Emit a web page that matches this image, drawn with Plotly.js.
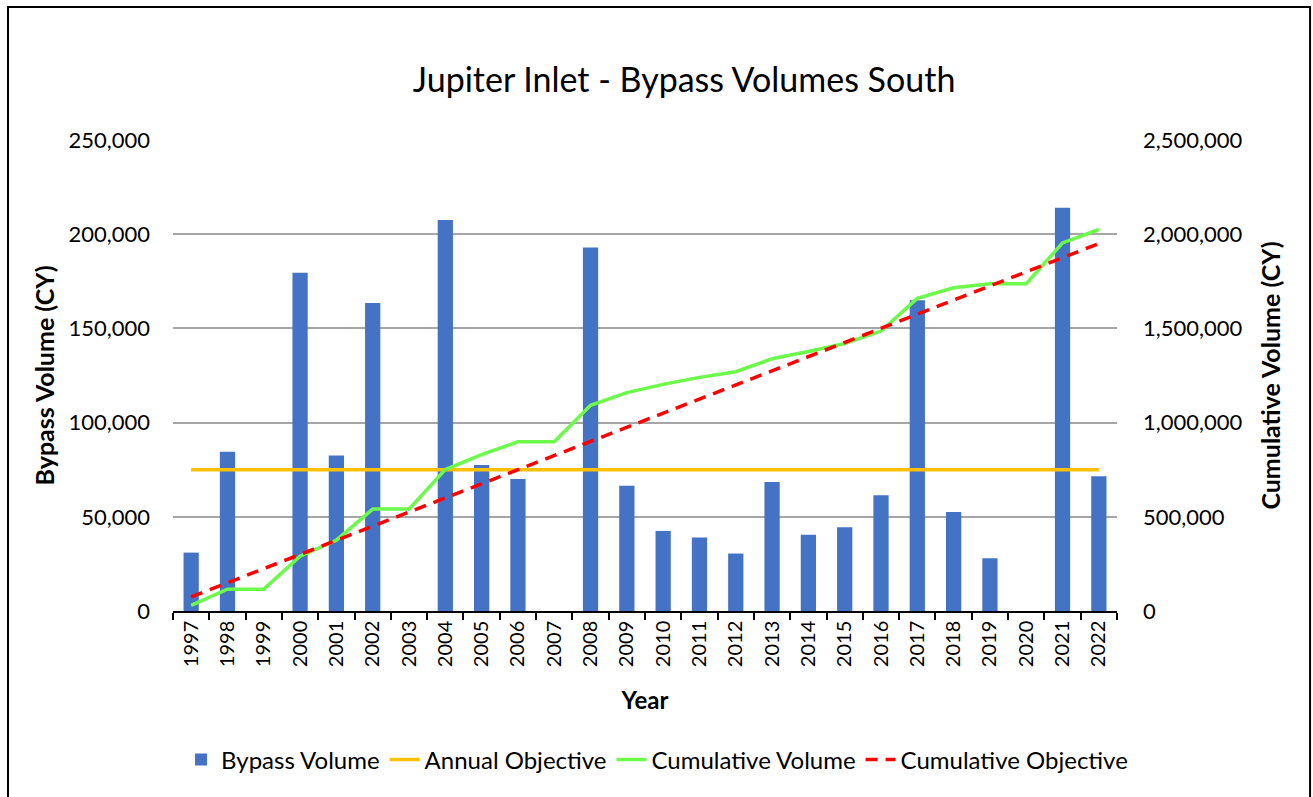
<!DOCTYPE html>
<html>
<head>
<meta charset="utf-8">
<script src="https://cdn.plot.ly/plotly-3.0.1.min.js"></script>
<style>
  html, body { margin: 0; padding: 0; background: #fff; }
  #chart { width: 1313px; height: 797px; }
</style>
</head>
<body>
<div id="chart"></div>
<script>
var years = ['1997', '1998', '1999', '2000', '2001', '2002', '2003', '2004', '2005',
  '2006', '2007', '2008', '2009', '2010', '2011', '2012', '2013', '2014', '2015',
  '2016', '2017', '2018', '2019', '2020', '2021', '2022'];

// annual bypass volume (CY)
var bypassVolume = [31000, 84500, 0, 179500, 82500, 163500, 0, 207500, 77500,
  70000, 0, 193000, 66500, 42500, 39000, 30500, 68500, 40500, 44500,
  61500, 165000, 52500, 28000, 0, 214000, 71500];

var annualObjective = [75000, 75000, 75000, 75000, 75000, 75000, 75000, 75000, 75000,
  75000, 75000, 75000, 75000, 75000, 75000, 75000, 75000, 75000, 75000,
  75000, 75000, 75000, 75000, 75000, 75000, 75000];

// cumulative volume (CY), right axis
var cumulativeVolume = [30000, 116000, 116000, 291000, 376000, 541000, 541000, 751000, 830000,
  898000, 898000, 1092000, 1159000, 1203000, 1240000, 1270000, 1339000, 1377000, 1420000,
  1486000, 1659000, 1716000, 1737000, 1737000, 1954000, 2025000];

var cumulativeObjective = [75000, 150000, 225000, 300000, 375000, 450000, 525000, 600000, 675000,
  750000, 825000, 900000, 975000, 1050000, 1125000, 1200000, 1275000, 1350000, 1425000,
  1500000, 1575000, 1650000, 1725000, 1800000, 1875000, 1950000];

var leftTicks = [0, 50000, 100000, 150000, 200000, 250000];
var rightTicks = [0, 500000, 1000000, 1500000, 2000000, 2500000];

var FONT = 'Lato, "Open Sans", sans-serif';

var data = [
  {
    x: years, y: bypassVolume, type: 'bar', name: 'Bypass Volume',
    marker: {color: '#4472C4'}
  },
  {
    x: years, y: annualObjective, type: 'scatter', mode: 'lines', name: 'Annual Objective',
    line: {color: '#FFC000', width: 3.5}
  },
  {
    x: years, y: cumulativeVolume, type: 'scatter', mode: 'lines', name: 'Cumulative Volume',
    yaxis: 'y2', line: {color: '#6CFA4B', width: 3.5}
  },
  {
    x: years, y: cumulativeObjective, type: 'scatter', mode: 'lines', name: 'Cumulative Objective',
    yaxis: 'y2', line: {color: '#FF0000', width: 3.5, dash: '12px,8px'}
  }
];

var layout = {
  width: 1313,
  height: 797,
  margin: {l: 173, r: 196, t: 140, b: 186, autoexpand: false},
  paper_bgcolor: '#fff',
  plot_bgcolor: '#fff',
  font: {family: FONT, size: 20, color: '#000'},
  title: {
    text: 'Jupiter Inlet - Bypass Volumes South',
    font: {family: FONT, size: 34, color: '#000'},
    x: 0.521, xanchor: 'center', xref: 'container',
    y: 0.9, yanchor: 'middle', yref: 'container'
  },
  bargap: 0.58,
  showlegend: true,
  legend: {
    orientation: 'h',
    xref: 'paper', x: 1.017, xanchor: 'right',
    yref: 'paper', y: -0.316, yanchor: 'middle',
    font: {family: FONT, size: 24, color: '#000'},
    traceorder: 'normal'
  },
  xaxis: {
    type: 'category',
    tickson: 'boundaries',
    ticks: 'outside', ticklen: 7, tickwidth: 1.5, tickcolor: '#000',
    showline: true, linecolor: '#000', linewidth: 1.5,
    tickangle: -90,
    tickfont: {family: FONT, size: 20},
    showgrid: false,
    title: {text: '<b>Year</b>', font: {family: FONT, size: 24}, standoff: 26}
  },
  yaxis: {
    range: [0, 250000],
    tickvals: leftTicks,
    tickformat: ',d',
    showgrid: true, gridcolor: '#A6A6A6', gridwidth: 1.5,
    zeroline: false, showline: false,
    ticks: '', ticklabelstandoff: 22,
    tickfont: {family: FONT, size: 22},
    title: {text: '<b>Bypass Volume (CY)</b>', font: {family: FONT, size: 25}, standoff: 6}
  },
  yaxis2: {
    overlaying: 'y', side: 'right',
    range: [0, 2500000],
    tickvals: rightTicks,
    tickformat: ',d',
    showgrid: false, zeroline: false, showline: false,
    ticks: '', ticklabelstandoff: 25,
    tickfont: {family: FONT, size: 22},
    title: {text: '<b>Cumulative Volume (CY)</b>', font: {family: FONT, size: 25}, standoff: 20}
  },
  shapes: [{
    type: 'rect', xref: 'paper', yref: 'paper',
    x0: -0.1748, x1: 1.2045, y0: -0.43, y1: 1.2824,
    line: {color: '#000', width: 2}, fillcolor: 'rgba(0,0,0,0)', layer: 'below'
  }]
};

Plotly.newPlot('chart', data, layout, {displayModeBar: false});
</script>
</body>
</html>
